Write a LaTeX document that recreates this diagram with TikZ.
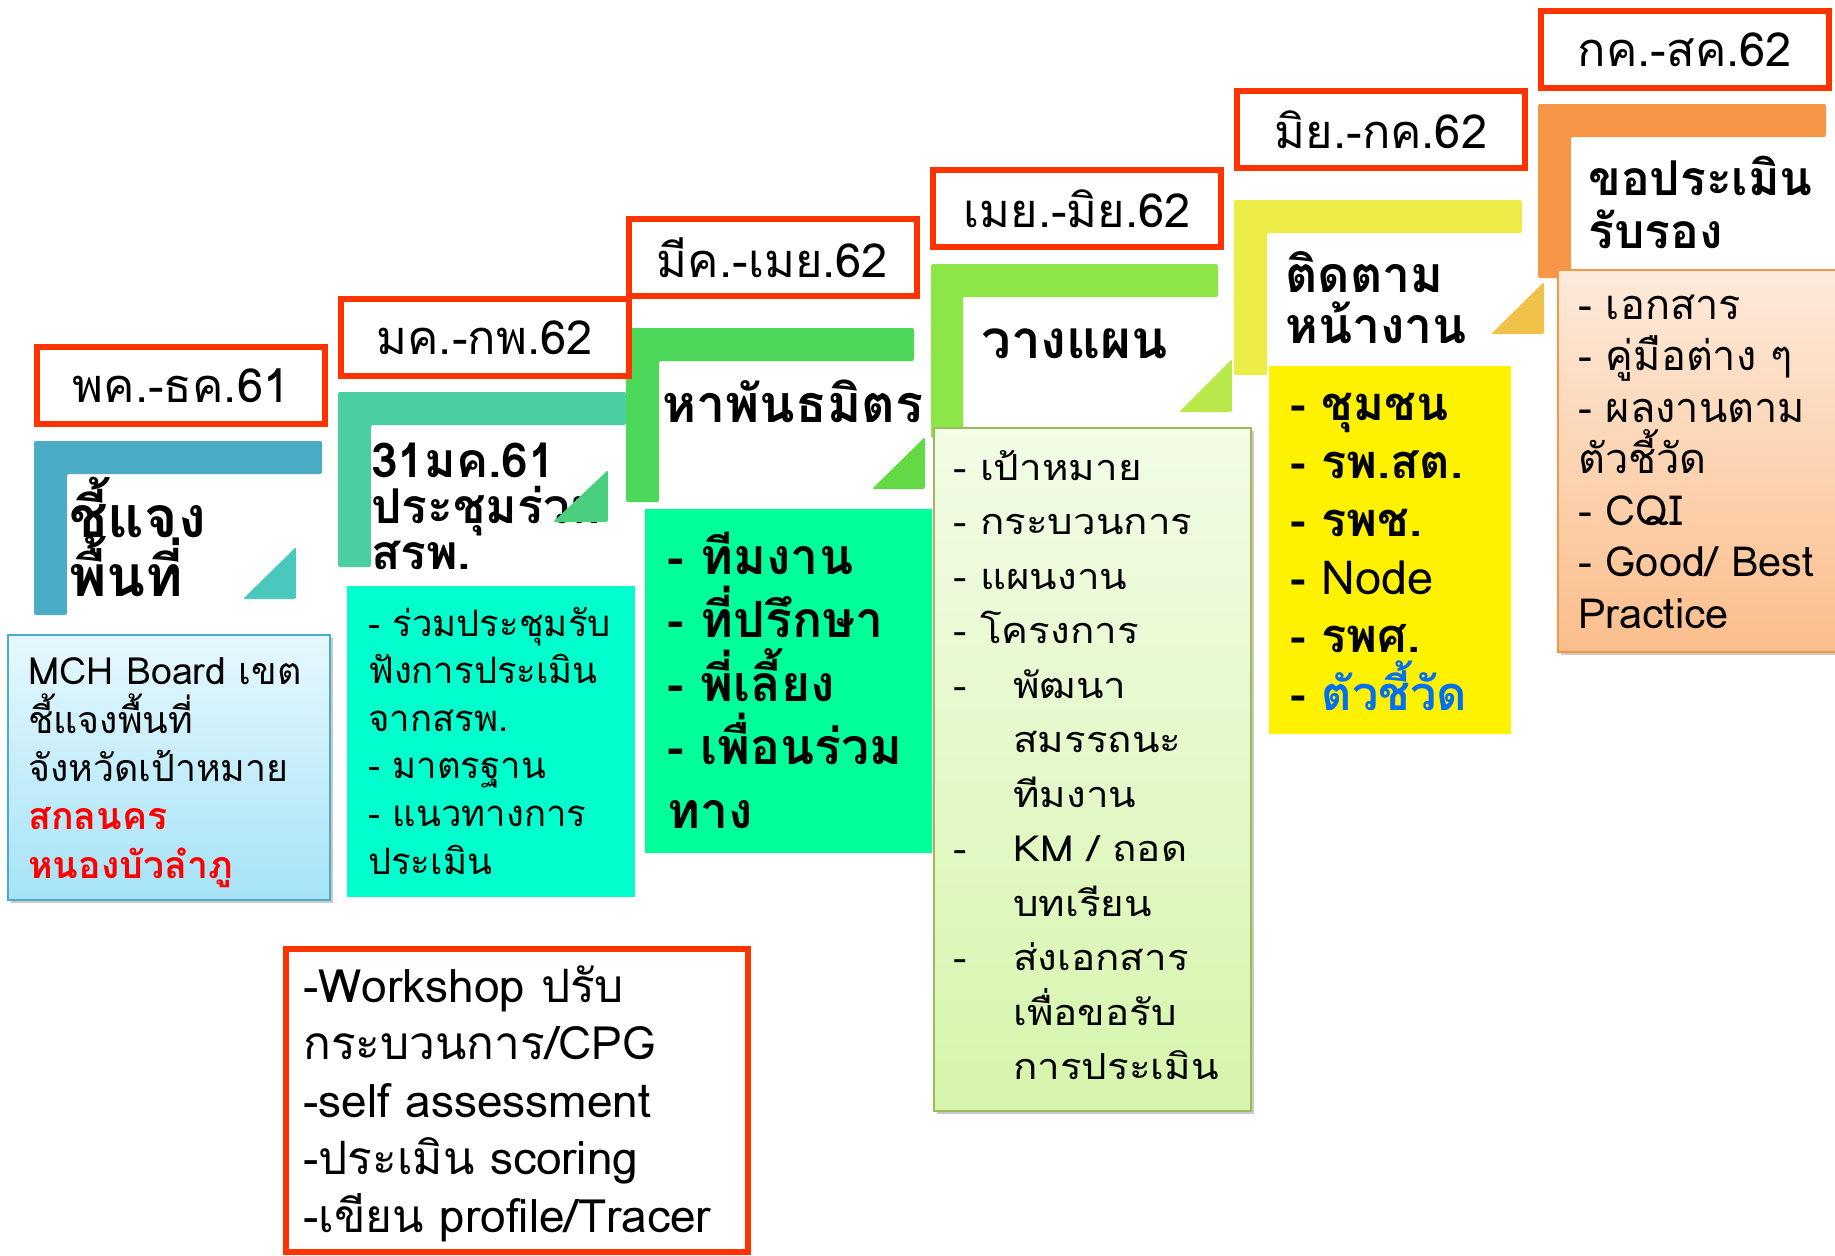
\documentclass[tikz,border=0pt]{standalone}
\usepackage{fontspec}
\setmainfont[Script=Thai]{Loma}
\newfontfamily\widethai[Script=Thai,FakeStretch=1.12]{Loma}
\usetikzlibrary{shadows}
\newcommand\linesat[2]{\fontsize{#1}{#2}\selectfont\lineskiplimit=-100pt\lineskip=0pt}
\definecolor{datered}{HTML}{FF3300}
\definecolor{stepA}{HTML}{4BACC6}
\definecolor{stepB}{HTML}{4BCFA0}
\definecolor{stepC}{HTML}{4CD95A}
\definecolor{stepD}{HTML}{8EE548}
\definecolor{stepE}{HTML}{EDED4A}
\definecolor{stepF}{HTML}{F79646}
\definecolor{triA}{HTML}{4BC8BE}
\definecolor{triB}{HTML}{4ACF7E}
\definecolor{triC}{HTML}{63DA45}
\definecolor{triD}{HTML}{BAE84A}
\definecolor{triE}{HTML}{F0C24A}
\definecolor{noteblue}{HTML}{0070F0}
\begin{document}
\begin{tikzpicture}[x=1pt,y=-1pt,
    datebox/.style={draw=datered, line width=6pt, minimum width=288pt,
      minimum height=77pt, inner sep=0pt, font=\linesat{47}{50}},
    heading/.style 2 args={anchor=base west, align=left, inner sep=0pt,
      font=\bfseries\linesat{#1}{#2}},
    listbox/.style={anchor=north west, inner sep=0pt},
    listtext/.style={anchor=base west, align=left, inner sep=0pt},
    softshadow/.style={drop shadow={shadow xshift=3pt, shadow yshift=-3pt,
      opacity=.35, fill=black!60}},
  ]
  \useasboundingbox (0,0) rectangle (1835,1255);

  % step brackets
  \fill[stepA, rounded corners=2] (34,441) -- (322,441) -- (322,474) -- (67,474) -- (67,615) -- (34,615) -- cycle;
  \fill[stepB, rounded corners=2] (338,392) -- (626,392) -- (626,425) -- (371,425) -- (371,567) -- (338,567) -- cycle;
  \fill[stepC, rounded corners=2] (626,328) -- (914,328) -- (914,361) -- (659,361) -- (659,502) -- (626,502) -- cycle;
  \fill[stepD, rounded corners=2] (931,264) -- (1218,264) -- (1218,297) -- (963,297) -- (963,438) -- (931,438) -- cycle;
  \fill[stepE, rounded corners=2] (1234,200) -- (1522,200) -- (1522,233) -- (1267,233) -- (1267,375) -- (1234,375) -- cycle;
  \fill[stepF, rounded corners=2] (1538,104) -- (1826,104) -- (1826,137) -- (1571,137) -- (1571,278) -- (1538,278) -- cycle;

  % headings (anchored on the last line)
  \node[heading={57}{59}] (headA) at (69,596) {ชี้แจง\\พื้นที่};
  \node[heading={48}{46}] (headB) at (371,569) {31มค.61\\ประชุมร่วม\\สรพ.};
  \node[heading={52}{52}] (headC) at (662,422) {หาพันธมิตร};
  \node[heading={53}{53}] (headD) at (981,358) {วางแผน};
  \node[heading={50}{51}] (headE) at (1285,343) {ติดตาม\\หน้างาน};
  \node[heading={48}{53}] (headF) at (1588,248) {ขอประเมิน\\รับรอง};

  % corner triangles
  \fill[triA, rounded corners=2] (243,599) -- (296,599) -- (296,547) -- cycle;
  \fill[triB, rounded corners=2] (553,522) -- (608,522) -- (608,470) -- cycle;
  \fill[triC, rounded corners=2] (872,489) -- (925,489) -- (925,437) -- cycle;
  \fill[triD, rounded corners=2] (1179,412) -- (1232,412) -- (1232,359) -- cycle;
  \fill[triE, rounded corners=2] (1491,334) -- (1544,334) -- (1544,282) -- cycle;

  % periods
  \node[datebox] (dateA) at (181,385.5) {พค.-ธค.61};
  \node[datebox] (dateB) at (484.5,337.5) {มค.-กพ.62};
  \node[datebox] (dateC) at (772.5,257.5) {มีค.-เมย.62};
  \node[datebox] (dateD) at (1077,208.5) {เมย.-มิย.62};
  \node[datebox] (dateE) at (1381,129.5) {มิย.-กค.62};
  \node[datebox] (dateF) at (1685,49.5) {กค.-สค.62};

  % detail boxes
  \node[listbox, softshadow, draw=stepA, line width=1.5pt,
    top color={rgb,255:red,230;green,248;blue,253}, bottom color={rgb,255:red,166;green,227;blue,247},
    minimum width=322pt, minimum height=265pt] (boxA) at (7,634) {};
  \node[listbox, fill={rgb,255:red,0;green,255;blue,204},
    minimum width=288pt, minimum height=311pt] (boxB) at (347,586) {};
  \node[listbox, fill={rgb,255:red,0;green,255;blue,153},
    minimum width=287pt, minimum height=344pt] (boxC) at (645,509) {};
  \node[listbox, softshadow, draw={rgb,255:red,155;green,187;blue,89}, line width=1.5pt,
    top color={rgb,255:red,242;green,252;blue,230}, bottom color={rgb,255:red,214;green,245;blue,172},
    minimum width=317pt, minimum height=683pt] (boxD) at (933,427) {};
  \node[listbox, fill=yellow,
    minimum width=242pt, minimum height=368pt] (boxE) at (1269,366) {};
  \node[listbox, softshadow, draw=stepF, line width=1.5pt,
    top color={rgb,255:red,253;green,234;blue,218}, bottom color={rgb,255:red,251;green,190;blue,140},
    minimum width=290pt, minimum height=382pt] (boxF) at (1557,269) {};
  \node[listbox, draw=datered, line width=6pt,
    minimum width=462pt, minimum height=303pt] (boxG) at (283,946) {};

  % detail texts (anchored on the last line)
  \node[listtext, font=\linesat{37.5}{48.3}] (textA) at (28,878)
    {MCH Board เขต\\ชี้แจงพื้นที่\\จังหวัดเป้าหมาย\\{\color{red}\bfseries สกลนคร}\\{\color{red}\bfseries หนองบัวลำภู}};
  \node[listtext, font=\linesat{36.5}{47.6}] (textB) at (368,874)
    {- ร่วมประชุมรับ\\ฟังการประเมิน\\จากสรพ.\\- มาตรฐาน\\- แนวทางการ\\ประเมิน};
  \node[listtext, font=\bfseries\linesat{50}{63.5}] (textC) at (667,828)
    {- ทีมงาน\\- ที่ปรึกษา\\- พี่เลี้ยง\\- เพื่อนร่วม\\ทาง};
  \node[listtext, font=\widethai\linesat{36}{54.5}] (textD) at (953,1079.5)
    {- เป้าหมาย\\- กระบวนการ\\- แผนงาน\\- โครงการ\\
     \makebox[60pt][l]{-}พัฒนา\\\hspace*{60pt}สมรรถนะ\\\hspace*{60pt}ทีมงาน\\
     \makebox[60pt][l]{-}KM / ถอด\\\hspace*{60pt}บทเรียน\\
     \makebox[60pt][l]{-}ส่งเอกสาร\\\hspace*{60pt}เพื่อขอรับ\\\hspace*{60pt}การประเมิน};
  \node[listtext, font=\bfseries\linesat{47}{58}] (textE) at (1290,710)
    {- ชุมชน\\- รพ.สต.\\- รพช.\\- {\mdseries Node}\\- รพศ.\\- {\color{noteblue}ตัวชี้วัด}};
  \node[listtext, font=\linesat{41.5}{51.5}] (textF) at (1578,628)
    {- เอกสาร\\- คู่มือต่าง ๆ\\- ผลงานตาม\\ตัวชี้วัด\\- CQI\\- Good/ Best\\Practice};
  \node[listtext, font=\linesat{46}{57.5}] (textG) at (303,1232)
    {-Workshop ปรับ\\กระบวนการ/CPG\\-self assessment\\-ประเมิน scoring\\-เขียน profile/Tracer};
\end{tikzpicture}
\end{document}
